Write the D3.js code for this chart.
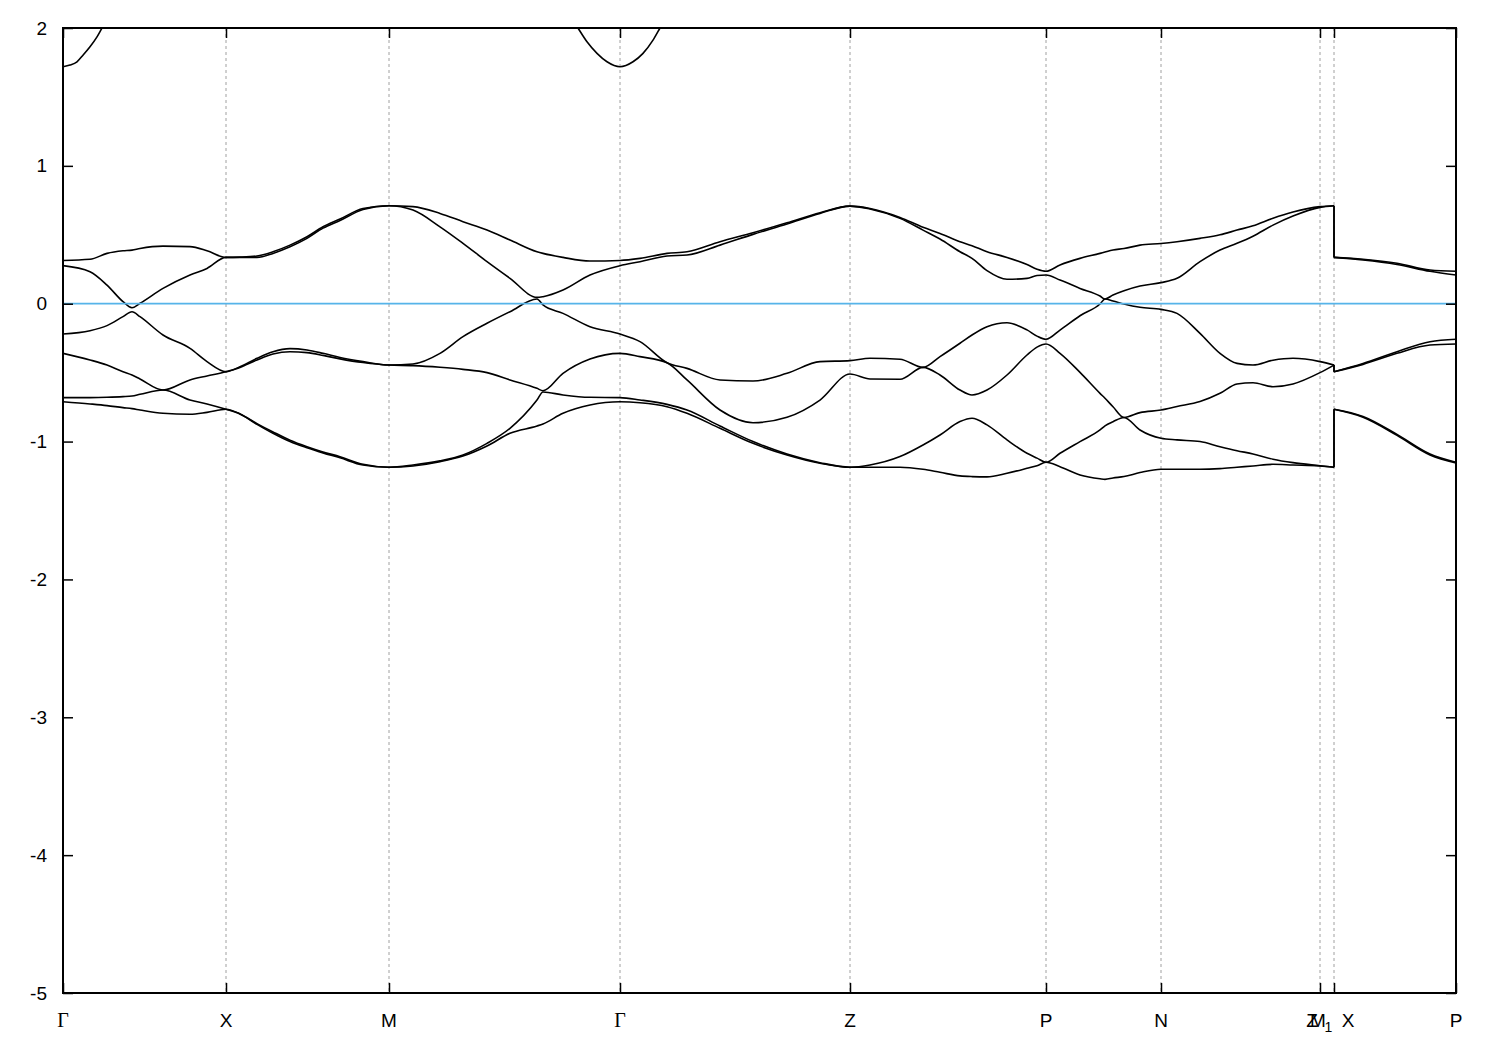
<!DOCTYPE html>
<html><head><meta charset="utf-8">
<script src="https://cdn.jsdelivr.net/npm/d3@7"></script>
<style>body{margin:0;background:#fff} svg{display:block}</style>
</head><body>
<svg id="c" width="1500" height="1050"></svg>
<script>
// k-path coordinate (arbitrary units); a repeated value marks the M|X discontinuity
const kpath = [0, 0.027, 0.044, 0.060, 0.069, 0.077, 0.100, 0.127, 0.144, 0.163,
  0.177, 0.194, 0.210, 0.227, 0.244, 0.260, 0.277, 0.300, 0.326,
  0.350, 0.377, 0.400, 0.424, 0.447, 0.474, 0.480, 0.500, 0.527, 0.557,
  0.577, 0.604, 0.624, 0.657, 0.690, 0.724, 0.757, 0.787,
  0.807, 0.837, 0.860, 0.877, 0.897, 0.909, 0.924, 0.944, 0.964, 0.974, 0.983,
  0.997, 1.017, 1.037, 1.042, 1.050, 1.061, 1.077, 1.098,
  1.114, 1.137, 1.157, 1.174, 1.190, 1.210, 1.230, 1.257, 1.271,
  1.271, 1.300, 1.334, 1.367, 1.393];

const band1 = [-0.711,-0.727,-0.739,-0.754,-0.761,-0.771,-0.795,-0.802,-0.788,-0.766,
  -0.800,-0.875,-0.940,-1.000,-1.045,-1.082,-1.118,-1.170,-1.186,
  -1.177,-1.146,-1.105,-1.032,-0.940,-0.887,-0.872,-0.795,-0.735,-0.711,
  -0.718,-0.747,-0.795,-0.904,-1.013,-1.097,-1.157,-1.186,
  -1.186,-1.186,-1.201,-1.223,-1.249,-1.254,-1.256,-1.230,-1.194,-1.175,-1.150,
  -1.182,-1.242,-1.270,-1.274,-1.264,-1.254,-1.225,-1.201,
  -1.201,-1.201,-1.196,-1.186,-1.177,-1.165,-1.170,-1.177,-1.186,
  -0.766,-0.824,-0.955,-1.097,-1.155];

const band2 = [-0.681,-0.681,-0.679,-0.674,-0.669,-0.657,-0.626,-0.698,-0.727,-0.766,
  -0.800,-0.870,-0.930,-0.990,-1.037,-1.075,-1.110,-1.165,-1.186,
  -1.170,-1.140,-1.097,-1.013,-0.904,-0.699,-0.640,-0.662,-0.679,-0.681,
  -0.698,-0.730,-0.771,-0.887,-1.000,-1.090,-1.153,-1.186,
  -1.170,-1.109,-1.025,-0.952,-0.855,-0.831,-0.879,-0.988,-1.085,-1.120,-1.150,
  -1.085,-1.000,-0.916,-0.886,-0.856,-0.825,-0.916,-0.976,
  -0.988,-1.000,-1.037,-1.066,-1.090,-1.128,-1.153,-1.175,-1.186,
  -0.766,-0.818,-0.948,-1.090,-1.150];

const band3 = [-0.360,-0.408,-0.445,-0.493,-0.517,-0.546,-0.626,-0.553,-0.524,-0.493,
  -0.462,-0.408,-0.365,-0.348,-0.355,-0.375,-0.400,-0.427,-0.445,
  -0.449,-0.461,-0.476,-0.500,-0.553,-0.614,-0.631,-0.505,-0.401,-0.360,
  -0.384,-0.428,-0.553,-0.771,-0.863,-0.824,-0.699,-0.510,
  -0.546,-0.548,-0.462,-0.517,-0.626,-0.662,-0.626,-0.517,-0.372,-0.315,-0.292,
  -0.360,-0.498,-0.650,-0.686,-0.747,-0.825,-0.790,-0.771,
  -0.746,-0.710,-0.650,-0.582,-0.573,-0.602,-0.582,-0.500,-0.445,
  -0.493,-0.440,-0.360,-0.300,-0.292];

const band4 = [-0.220,-0.196,-0.159,-0.094,-0.058,-0.094,-0.227,-0.324,-0.420,-0.493,
  -0.457,-0.396,-0.348,-0.326,-0.336,-0.360,-0.390,-0.420,-0.445,
  -0.437,-0.360,-0.239,-0.142,-0.058,0.034,-0.009,-0.070,-0.167,-0.220,
  -0.275,-0.428,-0.469,-0.553,-0.561,-0.505,-0.420,-0.413,
  -0.396,-0.403,-0.462,-0.384,-0.287,-0.227,-0.167,-0.138,-0.190,-0.235,-0.258,
  -0.191,-0.087,-0.002,0.034,0.020,-0.002,-0.026,-0.041,
  -0.070,-0.215,-0.360,-0.433,-0.445,-0.410,-0.396,-0.420,-0.445,
  -0.493,-0.433,-0.348,-0.276,-0.258];

const band5 = [0.276,0.232,0.135,0.015,-0.029,0.003,0.111,0.208,0.256,0.336,
  0.336,0.336,0.365,0.413,0.474,0.548,0.604,0.684,0.711,
  0.679,0.558,0.438,0.305,0.184,0.046,0.051,0.099,0.208,0.276,
  0.305,0.346,0.353,0.425,0.503,0.578,0.655,0.708,
  0.687,0.619,0.534,0.469,0.377,0.329,0.240,0.177,0.184,0.205,0.208,
  0.172,0.111,0.056,0.034,0.063,0.094,0.128,0.153,
  0.184,0.305,0.389,0.438,0.490,0.570,0.636,0.699,0.711,
  0.336,0.318,0.285,0.235,0.208];

const band6 = [0.314,0.322,0.365,0.384,0.389,0.401,0.418,0.414,0.384,0.336,
  0.338,0.346,0.377,0.425,0.486,0.558,0.614,0.690,0.711,
  0.704,0.655,0.595,0.534,0.462,0.377,0.365,0.336,0.310,0.314,
  0.329,0.365,0.377,0.450,0.515,0.587,0.660,0.708,
  0.691,0.626,0.554,0.510,0.450,0.421,0.377,0.336,0.284,0.250,0.235,
  0.281,0.329,0.365,0.375,0.390,0.400,0.425,0.437,
  0.450,0.474,0.500,0.534,0.565,0.620,0.665,0.704,0.711,
  0.336,0.322,0.293,0.244,0.235];

// conduction band (mostly above the window)
const band7k = [0, 0.007, 0.014, 0.020, 0.027, 0.034, 0.039, 0.047, 0.062, 0.237,
  0.482, 0.502, 0.515, 0.524, 0.534, 0.544, 0.557, 0.570, 0.580, 0.590, 0.597, 0.607, 0.627, 0.837, 1.393];
const band7 = [1.719, 1.731, 1.755, 1.803, 1.864, 1.936, 2.0, 2.1, 2.3, 2.8,
  2.35, 2.15, 2.0, 1.90, 1.816, 1.755, 1.719, 1.755, 1.816, 1.912, 2.0, 2.13, 2.35, 2.8, 2.8];

const kTicks = [0, 0.163, 0.326, 0.557, 0.787, 0.983, 1.098, 1.257, 1.271, 1.393];
const kTickNames = ["Γ", "X", "M", "Γ", "Z", "P", "N", "Z1", "M X", "P"];
const eTicks = [-5, -4, -3, -2, -1, 0, 1, 2];
const eFermi = 0;

const L = 63, R = 1456, T = 28, B = 993;
const x = d3.scaleLinear().domain([0, 1.393]).range([L, R]);
const y = d3.scaleLinear().domain([-5, 2]).range([B, T]);
const svg = d3.select("#c");
const FONT = "'Liberation Sans', Arial, sans-serif";

svg.append("defs").append("clipPath").attr("id", "clip")
  .append("rect").attr("x", L).attr("y", T).attr("width", R - L).attr("height", B - T);

// dashed grid at high-symmetry points
svg.append("g").selectAll("line").data(kTicks.slice(1, -1)).join("line")
  .attr("x1", d => x(d)).attr("x2", d => x(d)).attr("y1", T).attr("y2", B)
  .attr("stroke", "#a0a0a0").attr("stroke-width", 1).attr("stroke-dasharray", "3,3");

const bands = [band1, band2, band3, band4, band5, band6];
const jump = kpath.findIndex((k, i) => i > 0 && k === kpath[i - 1]);
const smooth = d3.line().x(d => x(d[0])).y(d => y(d[1])).curve(d3.curveMonotoneX);
const straight = d3.line().x(d => x(d[0])).y(d => y(d[1]));
const gB = svg.append("g").attr("clip-path", "url(#clip)")
  .attr("fill", "none").attr("stroke", "#000").attr("stroke-width", 1.6);
bands.forEach(b => {
  const pts = kpath.map((k, i) => [k, b[i]]);
  gB.append("path").attr("d", smooth(pts.slice(0, jump)));
  gB.append("path").attr("d", straight(pts.slice(jump - 1, jump + 1)));
  gB.append("path").attr("d", smooth(pts.slice(jump)));
});
gB.append("path").attr("d", smooth(band7k.map((k, i) => [k, band7[i]])));

// Fermi level
svg.append("line").attr("x1", L).attr("x2", R).attr("y1", y(eFermi)).attr("y2", y(eFermi))
  .attr("stroke", "#56b4e9").attr("stroke-width", 1.8);

// axes (ticks inward)
const styleAxis = g => {
  g.select(".domain").remove();
  g.selectAll(".tick line").attr("stroke", "#000").attr("stroke-width", 1.5);
  g.selectAll("text").attr("font-family", FONT).attr("font-size", 19).attr("fill", "#000");
};
svg.append("g").attr("transform", `translate(${L},0)`)
  .call(d3.axisLeft(y).tickValues(eTicks).tickSizeInner(-10).tickSizeOuter(0).tickPadding(16).tickFormat(d => String(d)))
  .call(styleAxis);
svg.append("g").attr("transform", `translate(${R},0)`)
  .call(d3.axisRight(y).tickValues(eTicks).tickSizeInner(-10).tickSizeOuter(0).tickFormat(""))
  .call(styleAxis);
svg.append("g").attr("transform", `translate(0,${B})`)
  .call(d3.axisBottom(x).tickValues(kTicks).tickSizeInner(-10).tickSizeOuter(0).tickFormat(""))
  .call(styleAxis);
svg.append("g").attr("transform", `translate(0,${T})`)
  .call(d3.axisTop(x).tickValues(kTicks).tickSizeInner(-10).tickSizeOuter(0).tickFormat(""))
  .call(styleAxis);

// frame
svg.append("rect").attr("x", L).attr("y", T).attr("width", R - L).attr("height", B - T)
  .attr("fill", "none").attr("stroke", "#000").attr("stroke-width", 2);

// k-point labels
const gL = svg.append("g").attr("font-family", FONT).attr("font-size", 19).attr("fill", "#000").attr("text-anchor", "middle");
const baseY = B + 34;
kTicks.forEach((k, i) => {
  const name = kTickNames[i], px = x(k);
  if (name === "Γ") {
    gL.append("text").attr("x", px).attr("y", baseY).attr("font-family", "'Liberation Serif', 'Times New Roman', serif").attr("font-size", 20).text("Γ");
  } else if (name === "Z1") {
    gL.append("text").attr("x", px - 8).attr("y", baseY).text("Z");
    gL.append("text").attr("x", px + 8.5).attr("y", baseY + 5).attr("font-size", 14).text("1");
  } else if (name === "M X") {
    gL.append("text").attr("x", px - 16).attr("y", baseY).text("M");
    gL.append("text").attr("x", px + 14).attr("y", baseY).text("X");
  } else {
    gL.append("text").attr("x", px).attr("y", baseY).text(name);
  }
});
</script>
</body></html>
